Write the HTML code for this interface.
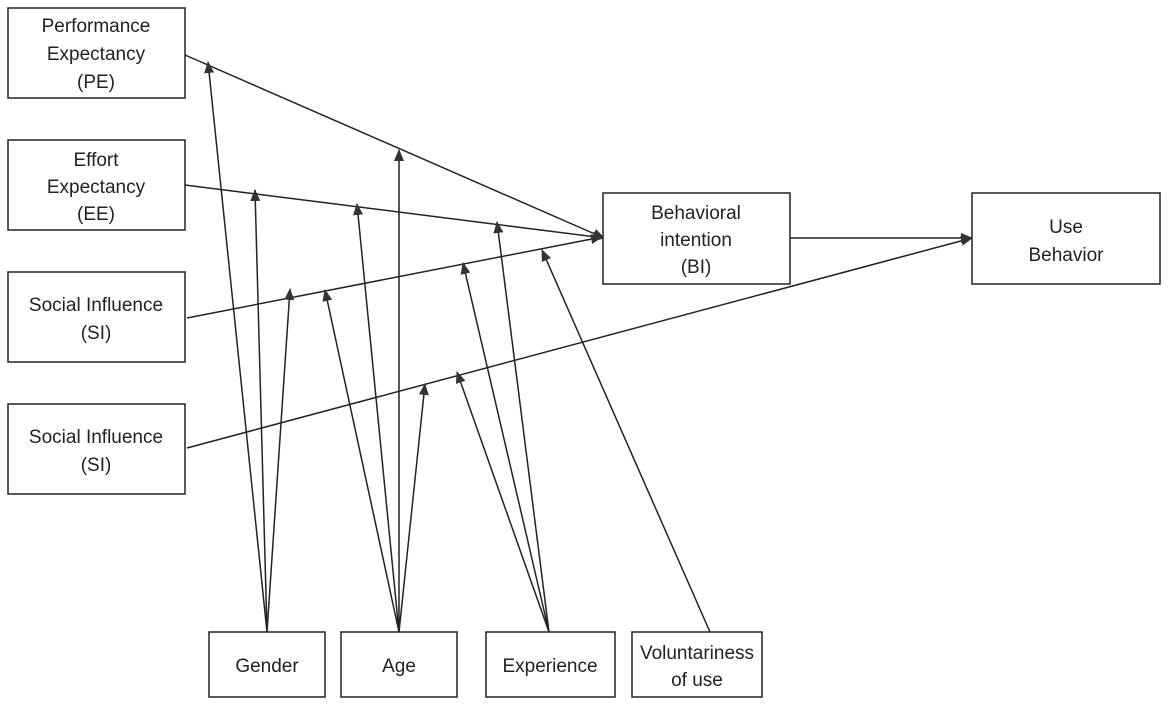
<!DOCTYPE html>
<html><head><meta charset="utf-8"><style>
html,body{margin:0;padding:0;background:#fff;}
svg{display:block;}
text{font-family:"Liberation Sans","NanumGothic",sans-serif;font-size:19px;fill:#222;text-anchor:middle;}
rect{fill:#fff;stroke:#222;stroke-width:1.5;}
line{stroke:#222;stroke-width:1.5;}
</style></head><body>
<svg width="1169" height="705" viewBox="0 0 1169 705" xmlns="http://www.w3.org/2000/svg">
<defs>
<marker id="a" viewBox="0 0 12 10" refX="11" refY="5" markerWidth="12" markerHeight="10" markerUnits="userSpaceOnUse" orient="auto">
<path d="M0,0 L12,5 L0,10 z" fill="#333"/>
</marker>
</defs>
<g marker-end="url(#a)">
<line x1="185" y1="55" x2="604" y2="238"/>
<line x1="185" y1="185" x2="604" y2="238"/>
<line x1="187" y1="318" x2="602" y2="237"/>
<line x1="187" y1="448" x2="972" y2="238"/>
<line x1="790" y1="238" x2="972" y2="238"/>
<line x1="267" y1="632" x2="208" y2="62"/>
<line x1="267" y1="632" x2="255" y2="190"/>
<line x1="267" y1="632" x2="290" y2="289"/>
<line x1="399" y1="632" x2="399" y2="150"/>
<line x1="399" y1="632" x2="357" y2="204"/>
<line x1="399" y1="632" x2="325" y2="290"/>
<line x1="399" y1="632" x2="425" y2="384"/>
<line x1="549" y1="632" x2="497" y2="222"/>
<line x1="549" y1="632" x2="463" y2="263"/>
<line x1="549" y1="632" x2="457" y2="372"/>
<line x1="710" y1="632" x2="542" y2="250"/>
</g>
<rect x="8" y="8" width="177" height="90"/>
<text x="96" y="32">Performance</text><text x="96" y="60">Expectancy</text><text x="96" y="88">(PE)</text>
<rect x="8" y="140" width="177" height="90"/>
<text x="96" y="166">Effort</text><text x="96" y="193">Expectancy</text><text x="96" y="220">(EE)</text>
<rect x="8" y="272" width="177" height="90"/>
<text x="96" y="311">Social Influence</text><text x="96" y="339">(SI)</text>
<rect x="8" y="404" width="177" height="90"/>
<text x="96" y="443">Social Influence</text><text x="96" y="471">(SI)</text>
<rect x="603" y="193" width="187" height="91"/>
<text x="696" y="219">Behavioral</text><text x="696" y="246">intention</text><text x="696" y="273">(BI)</text>
<rect x="972" y="193" width="188" height="91"/>
<text x="1066" y="233">Use</text><text x="1066" y="261">Behavior</text>
<rect x="209" y="632" width="116" height="65"/>
<text x="267" y="672">Gender</text>
<rect x="341" y="632" width="116" height="65"/>
<text x="399" y="672">Age</text>
<rect x="486" y="632" width="129" height="65"/>
<text x="550" y="672">Experience</text>
<rect x="632" y="632" width="130" height="65"/>
<text x="697" y="659">Voluntariness</text><text x="697" y="686">of use</text>
</svg>
</body></html>
